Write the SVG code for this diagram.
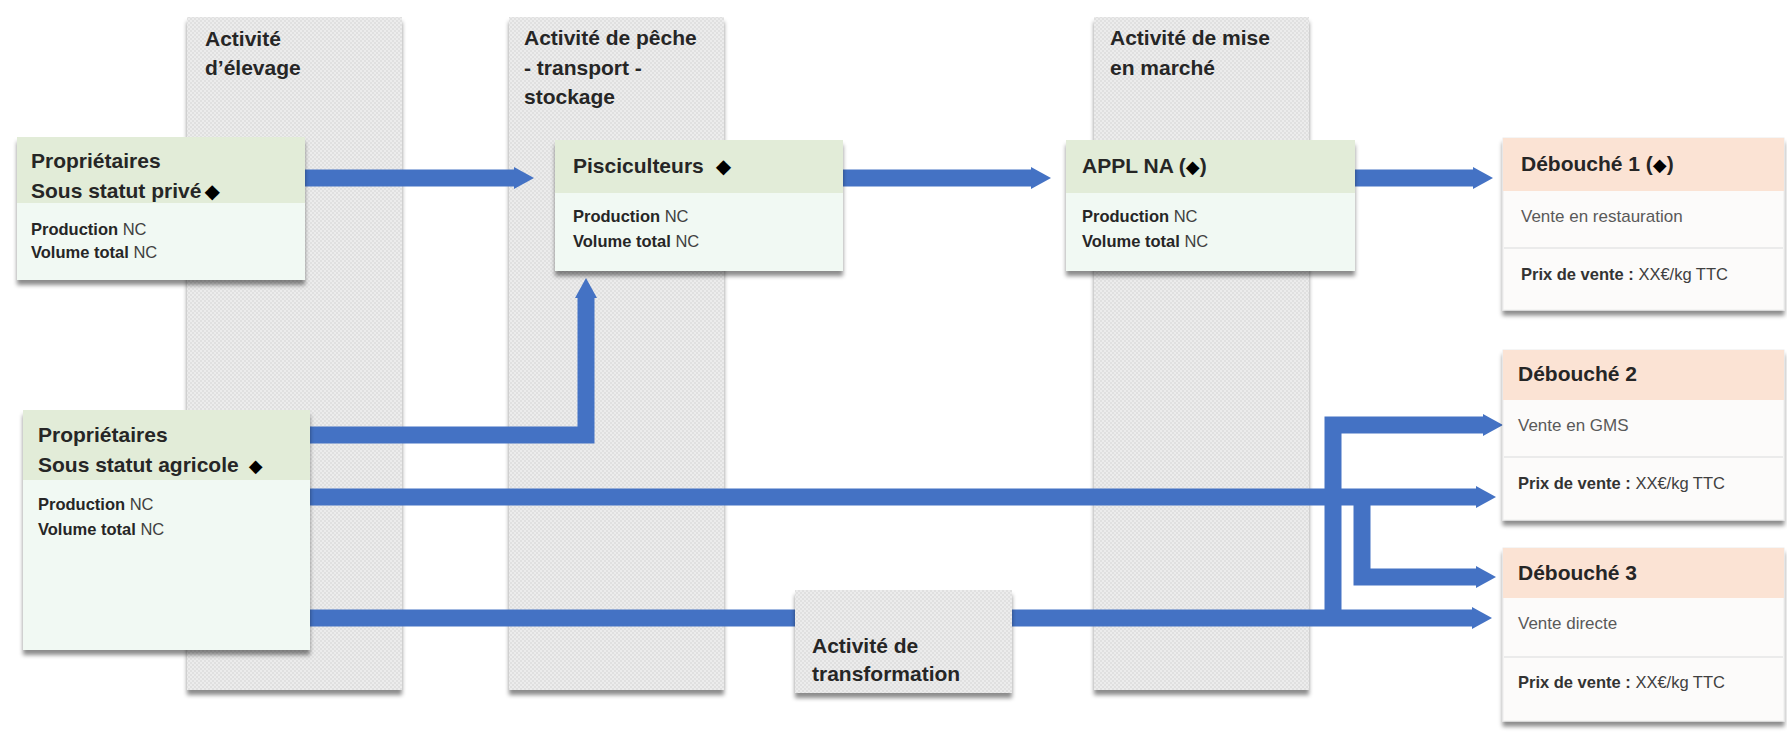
<svg xmlns="http://www.w3.org/2000/svg" width="1787" height="732" viewBox="0 0 1787 732">
  <style>
    .title { font-family: "Liberation Sans", Arial, sans-serif; font-weight: bold; font-size: 21px; fill: #262626; }
    .head { font-family: "Liberation Sans", Arial, sans-serif; font-weight: bold; font-size: 21px; fill: #262626; }
    .info { font-family: "Liberation Sans", Arial, sans-serif; font-weight: bold; font-size: 16.5px; fill: #262626; }
    .reg { font-weight: normal; fill: #404040; }
    .sub { font-family: "Liberation Sans", Arial, sans-serif; font-size: 17px; fill: #595959; }
    .price { font-family: "Liberation Sans", Arial, sans-serif; font-weight: bold; font-size: 16.5px; fill: #333; }
    .dia { font-family: "DejaVu Sans", sans-serif; font-weight: normal; fill: #000; }
    .lane { fill: url(#hatch); filter: url(#sh); }
    .ghead { fill: #e2ecd8; }
    .gbody { fill: #f1f9f3; }
    .ohead { fill: #fbe3d4; }
    .obody { fill: #fcfbfa; stroke: #ececec; stroke-width: 1; }
    .divl { stroke: #e6e6e6; stroke-width: 1.5; }
    .flow { fill: none; stroke: #4472c4; stroke-width: 17; stroke-linejoin: miter; marker-end: url(#arr); }
    .flow2 { fill: none; stroke: #4472c4; stroke-width: 17; stroke-linejoin: miter; }
  </style>
  <defs>
    <pattern id="hatch" width="4" height="4" patternUnits="userSpaceOnUse">
      <rect width="4" height="4" fill="#ececec"/>
      <rect width="2" height="2" fill="#e0e0e0"/>
      <rect x="2" y="2" width="2" height="2" fill="#e0e0e0"/>
    </pattern>
    <filter id="sh" x="-5%" y="-5%" width="110%" height="115%">
      <feDropShadow dx="0" dy="5" stdDeviation="2" flood-color="#000" flood-opacity="0.45"/>
    </filter>
    <marker id="arr" markerUnits="userSpaceOnUse" markerWidth="20" markerHeight="22" viewBox="0 0 20 22" refX="0" refY="11" orient="auto">
      <path d="M0,0 L20,11 L0,22 z" fill="#4472c4"/>
    </marker>
  </defs>
  <rect width="1787" height="732" fill="#ffffff"/>

  <g id="lane-elevage">
    <rect class="lane" x="187" y="17" width="215" height="673"/>
    <text class="title" x="205" y="46">Activité</text>
    <text class="title" x="205" y="75">d’élevage</text>
  </g>
  <g id="lane-peche">
    <rect class="lane" x="509" y="17" width="215" height="673"/>
    <text class="title" x="524" y="45">Activité de pêche</text>
    <text class="title" x="524" y="75">- transport -</text>
    <text class="title" x="524" y="104">stockage</text>
  </g>
  <g id="lane-marche">
    <rect class="lane" x="1094" y="17" width="215" height="673"/>
    <text class="title" x="1110" y="45">Activité de mise</text>
    <text class="title" x="1110" y="75">en marché</text>
  </g>

  <g id="connectors">
    <path class="flow" d="M305 178 H514"/>
    <path class="flow" d="M843 178 H1031"/>
    <path class="flow" d="M1355 178 H1473"/>
    <path class="flow" d="M310 435 H586 V298"/>
    <path class="flow" d="M310 497 H1476"/>
    <path class="flow" d="M1362 497 V577 H1476"/>
    <path class="flow2" d="M310 618 H796"/>
    <path class="flow" d="M1011 618 H1472"/>
    <path class="flow" d="M1333 618 V425 H1483"/>
  </g>

  <g id="prop-prive">
    <g filter="url(#sh)">
      <rect class="gbody" x="17" y="137" width="288" height="143"/>
      <rect class="ghead" x="17" y="137" width="288" height="66"/>
    </g>
    <text class="head" x="31" y="168">Propriétaires</text>
    <text class="head" x="31" y="198">Sous statut privé<tspan class="dia" dx="3" font-size="20">◆</tspan></text>
    <text class="info" x="31" y="235">Production <tspan class="reg">NC</tspan></text>
    <text class="info" x="31" y="258">Volume total <tspan class="reg">NC</tspan></text>
  </g>

  <g id="pisciculteurs">
    <g filter="url(#sh)">
      <rect class="gbody" x="555" y="140" width="288" height="131"/>
      <rect class="ghead" x="555" y="140" width="288" height="53"/>
    </g>
    <text class="head" x="573" y="173">Pisciculteurs<tspan class="dia" dx="12" font-size="20">◆</tspan></text>
    <text class="info" x="573" y="222">Production <tspan class="reg">NC</tspan></text>
    <text class="info" x="573" y="247">Volume total <tspan class="reg">NC</tspan></text>
  </g>

  <g id="appl-na">
    <g filter="url(#sh)">
      <rect class="gbody" x="1066" y="140" width="289" height="131"/>
      <rect class="ghead" x="1066" y="140" width="289" height="53"/>
    </g>
    <text class="head" x="1082" y="173">APPL NA (<tspan class="dia" font-size="18">◆</tspan>)</text>
    <text class="info" x="1082" y="222">Production <tspan class="reg">NC</tspan></text>
    <text class="info" x="1082" y="247">Volume total <tspan class="reg">NC</tspan></text>
  </g>

  <g id="prop-agricole">
    <g filter="url(#sh)">
      <rect class="gbody" x="23" y="410" width="287" height="240"/>
      <rect class="ghead" x="23" y="410" width="287" height="70"/>
    </g>
    <text class="head" x="38" y="442">Propriétaires</text>
    <text class="head" x="38" y="472">Sous statut agricole<tspan class="dia" dx="10" font-size="18">◆</tspan></text>
    <text class="info" x="38" y="510">Production <tspan class="reg">NC</tspan></text>
    <text class="info" x="38" y="535">Volume total <tspan class="reg">NC</tspan></text>
  </g>

  <g id="transformation">
    <rect class="lane" x="795" y="590" width="217" height="103"/>
    <text class="title" x="812" y="653">Activité de</text>
    <text class="title" x="812" y="681">transformation</text>
  </g>

  <g id="debouche-1">
    <g filter="url(#sh)">
      <rect class="obody" x="1503" y="138" width="281" height="172"/>
      <rect class="ohead" x="1503" y="138" width="281" height="53"/>
    </g>
    <line class="divl" x1="1504" y1="248" x2="1783" y2="248"/>
    <text class="head" x="1521" y="171">Débouché 1 (<tspan class="dia" font-size="18">◆</tspan>)</text>
    <text class="sub" x="1521" y="222">Vente en restauration</text>
    <text class="price" x="1521" y="280">Prix de vente : <tspan class="reg">XX€/kg TTC</tspan></text>
  </g>

  <g id="debouche-2">
    <g filter="url(#sh)">
      <rect class="obody" x="1503" y="350" width="281" height="170"/>
      <rect class="ohead" x="1503" y="350" width="281" height="50"/>
    </g>
    <line class="divl" x1="1504" y1="457" x2="1783" y2="457"/>
    <text class="head" x="1518" y="381">Débouché 2</text>
    <text class="sub" x="1518" y="431">Vente en GMS</text>
    <text class="price" x="1518" y="489">Prix de vente : <tspan class="reg">XX€/kg TTC</tspan></text>
  </g>

  <g id="debouche-3">
    <g filter="url(#sh)">
      <rect class="obody" x="1503" y="548" width="281" height="173"/>
      <rect class="ohead" x="1503" y="548" width="281" height="50"/>
    </g>
    <line class="divl" x1="1504" y1="657" x2="1783" y2="657"/>
    <text class="head" x="1518" y="580">Débouché 3</text>
    <text class="sub" x="1518" y="629">Vente directe</text>
    <text class="price" x="1518" y="688">Prix de vente : <tspan class="reg">XX€/kg TTC</tspan></text>
  </g>
</svg>
